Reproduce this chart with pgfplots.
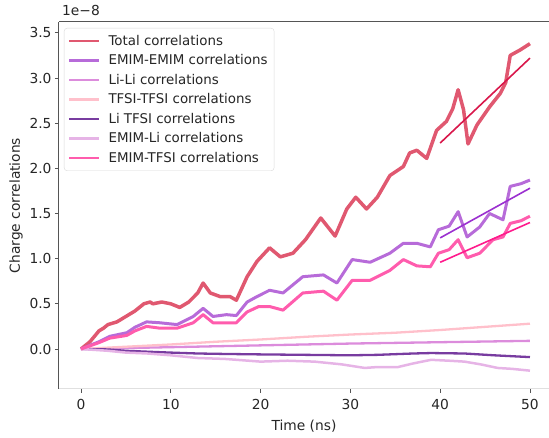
\documentclass[border=0pt]{standalone}
\usepackage{fontspec}
\setmainfont{DejaVu Sans}
\usepackage{pgfplots}
\pgfplotsset{compat=1.18}

\definecolor{ctot}{RGB}{224,88,112}
\definecolor{cee}{RGB}{183,107,217}
\definecolor{cll}{RGB}{220,140,220}
\definecolor{ctt}{RGB}{255,192,203}
\definecolor{clt}{RGB}{120,60,160}
\definecolor{cel}{RGB}{230,180,230}
\definecolor{cet}{RGB}{255,92,173}
\definecolor{ftot}{RGB}{217,23,75}
\definecolor{fee}{RGB}{155,48,208}
\definecolor{fet}{RGB}{255,26,140}
\definecolor{spine}{RGB}{85,85,85}

\newcommand{\fs}{\fontsize{13.8}{16}\selectfont}
\newcommand{\lfs}{\fontsize{13.4}{16}\selectfont}

\begin{document}
\begin{tikzpicture}
\begin{axis}[name=ax, scale only axis, width=490pt, height=367pt,
  xmin=-2.45, xmax=52.12, ymin=-0.443, ymax=3.62,
  axis x line*=bottom, axis y line*=left,
  x axis line style={draw=black!12, line width=1pt},
  y axis line style={draw=spine, line width=1pt},
  xtick={0,10,20,30,40,50}, ytick={0,0.5,1,1.5,2,2.5,3,3.5},
  tick align=outside, major tick length=4pt,
  tick style={spine, line width=0.8pt},
  yticklabel style={/pgf/number format/.cd, fixed, fixed zerofill, precision=1},
  xticklabel style={yshift=-3pt},
  /pgf/number format/assume math mode=true,
  ticklabel style={font=\fs, color=black!85},
  label style={font=\fs, color=black!85},
  xlabel={Time (ns)}, ylabel={Charge correlations},
  xlabel style={yshift=-3pt},
  legend cell align=left,
  legend style={at={(rel axis cs:0,1)}, anchor=north west, xshift=5pt, yshift=-6pt,
    draw=black!15, rounded corners=3pt, fill=white, font=\lfs,
    row sep=2.8pt, inner xsep=4pt, inner ysep=4.5pt, nodes={inner sep=2.5pt, text=black!85}},
  legend image code/.code={\draw[#1, line width=2.2pt] (0pt,0pt) -- (30pt,0pt); \path (35pt,0pt);},
  every axis plot/.append style={line join=round},
]
\addplot[ctot, line width=3.5pt] coordinates {
(0,0) (1,0.08) (2,0.20) (2.5,0.23) (3,0.27) (4,0.30) (5,0.36) (6,0.42) (7,0.50) (7.7,0.52) (8,0.50)
(9,0.52) (10,0.50) (11,0.46) (12,0.52) (13,0.62) (13.6,0.73) (14.4,0.62) (15.5,0.58)
(16.6,0.58) (17.3,0.54) (18.5,0.80) (19.6,0.97) (21,1.12) (22.2,1.02) (23.6,1.06)
(25,1.21) (26.7,1.45) (28.3,1.25) (29.6,1.55) (30.6,1.68) (31.8,1.55) (33,1.68)
(34.4,1.92) (35.9,2.02) (36.6,2.17) (37.4,2.20) (38.5,2.11) (39.6,2.42) (40.7,2.52)
(41.4,2.66) (42,2.87) (42.6,2.65) (43.1,2.27) (44.1,2.48) (45.5,2.68) (46.7,2.83)
(47.3,2.95) (47.8,3.25) (48.9,3.31) (50,3.38)};
\addlegendentry{Total correlations}
\addplot[cee, line width=3pt] coordinates {
(0,0) (2,0.08) (3.2,0.14) (5.1,0.18) (6,0.24) (7.3,0.30) (8.8,0.29) (10.7,0.27)
(12.5,0.36) (13.6,0.45) (14.7,0.36) (16.2,0.38) (17.3,0.37) (18.5,0.52) (19.6,0.58)
(21,0.65) (22.5,0.62) (24.7,0.80) (27,0.82) (28.5,0.73) (30.2,0.99) (32.2,0.96)
(34.4,1.06) (35.9,1.17) (37.4,1.17) (38.9,1.13) (39.8,1.32) (41,1.36) (42,1.52)
(43,1.24) (44.4,1.35) (45.5,1.50) (47,1.43) (47.8,1.80) (49,1.83) (50,1.87)};
\addlegendentry{EMIM-EMIM correlations}
\addplot[cll, line width=2.3pt] coordinates {
(0,0) (10,0.02) (20,0.04) (30,0.06) (40,0.075) (50,0.09)};
\addlegendentry{Li-Li correlations}
\addplot[ctt, line width=2.3pt] coordinates {
(0,0) (5,0.025) (10,0.05) (15,0.08) (20,0.105) (25,0.135) (30,0.16) (35,0.18)
(40,0.21) (45,0.245) (50,0.28)};
\addlegendentry{TFSI-TFSI correlations}
\addplot[clt, line width=2.3pt] coordinates {
(0,0) (3,-0.005) (5,-0.02) (7.4,-0.03) (10,-0.04) (13,-0.05) (16,-0.055) (20,-0.06)
(25,-0.065) (30,-0.07) (33,-0.065) (37,-0.05) (39,-0.045) (42.7,-0.05) (46,-0.07) (50,-0.09)};
\addlegendentry{Li TFSI correlations}
\addplot[cel, line width=2.5pt] coordinates {
(0,0) (3,-0.02) (5,-0.04) (7.4,-0.05) (10,-0.07) (13,-0.10) (16,-0.11) (20,-0.14)
(23,-0.13) (26,-0.14) (29,-0.17) (31.6,-0.21) (33,-0.20) (35.3,-0.20) (37,-0.16)
(39,-0.12) (41,-0.13) (42.7,-0.14) (44.5,-0.17) (46.4,-0.21) (48,-0.22) (50,-0.24)};
\addlegendentry{EMIM-Li correlations}
\addplot[cet, line width=3pt] coordinates {
(0,0) (2,0.07) (3.2,0.12) (5.1,0.15) (6,0.20) (7.3,0.25) (8.8,0.23) (10.7,0.23)
(12.5,0.29) (13.6,0.38) (14.7,0.29) (16.2,0.29) (17.3,0.29) (18.5,0.41) (19.8,0.47)
(21,0.47) (22.5,0.43) (24.7,0.62) (27,0.64) (28.5,0.54) (30.2,0.76) (32.2,0.76)
(34.4,0.87) (35.9,0.99) (37.4,0.92) (38.9,0.91) (39.8,1.06) (41,1.10) (42,1.21)
(43,1.01) (44.4,1.06) (45.9,1.21) (47,1.24) (47.8,1.39) (49,1.42) (50,1.47)};
\addlegendentry{EMIM-TFSI correlations}
\addplot[ftot, line width=1.6pt, forget plot] coordinates {(40,2.28) (50,3.22)};
\addplot[fee, line width=1.6pt, forget plot] coordinates {(40,1.23) (50,1.78)};
\addplot[fet, line width=1.6pt, forget plot] coordinates {(40,0.96) (50,1.40)};
\end{axis}
\draw[spine, line width=1pt] (ax.north west) -- (ax.north east);
\node[anchor=base west, font=\fs, text=black!85, inner sep=0pt] at ([shift={(3pt,6pt)}]ax.north west) {1e−8};
\pgfresetboundingbox
\path ([shift={(-59pt,-49pt)}]ax.south west) rectangle ([shift={(0pt,22pt)}]ax.north east);
\end{tikzpicture}
\end{document}
